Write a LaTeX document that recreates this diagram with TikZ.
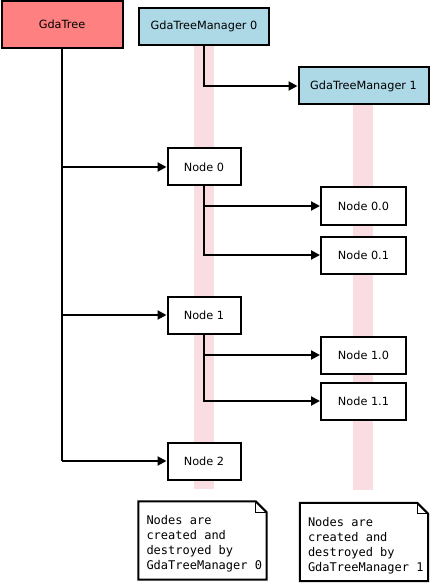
\documentclass[tikz,border=0pt]{standalone}
\usepackage{fontspec}
\setmainfont{DejaVu Sans}
\setmonofont{DejaVu Sans Mono}
\usetikzlibrary{arrows.meta}
\definecolor{treered}{HTML}{FF8080}
\definecolor{mgrblue}{HTML}{ADD8E6}
\definecolor{bandpink}{HTML}{FADDE2}
\tikzset{
  box/.style={draw=black, line width=2pt, inner sep=0pt, font=\fontsize{11.3}{13}\selectfont, align=center},
  treebox/.style={box, fill=treered, minimum width=121pt, minimum height=47pt},
  mgrbox/.style={box, fill=mgrblue, minimum width=130pt, minimum height=37pt},
  nodebox/.style={box, fill=white, minimum width=73pt, minimum height=37pt},
  subbox/.style={box, fill=white, minimum width=85pt, minimum height=37pt},
  conn/.style={line width=2pt, -{Triangle[length=9pt,width=9pt]}},
  plain/.style={line width=2pt},
  band/.style={fill=bandpink, draw=none},
  noteshape/.style={inner sep=0pt, minimum width=128pt, minimum height=78pt},
  notetext/.style={inner sep=0pt, align=left, anchor=north west, font=\ttfamily\fontsize{12}{15}\selectfont},
  notebox/.style={line width=2pt, fill=white, line join=miter},
  notefold/.style={line width=1.2pt}
}
\begin{document}
\begin{tikzpicture}[x=1pt,y=-1pt]
\useasboundingbox (0,0) rectangle (431,585);
% lifelines
\fill[band] (194,40) rectangle (214,489);
\fill[band] (353,100) rectangle (373,490);
% nodes
\node[treebox] (gt) at (62,24.5) {GdaTree};
\node[mgrbox] (m0) at (204,26.5) {GdaTreeManager 0};
\node[mgrbox] (m1) at (363.5,86) {GdaTreeManager 1};
\node[nodebox] (n0) at (204,167) {Node 0};
\node[subbox] (n00) at (363.5,206) {Node 0.0};
\node[subbox] (n01) at (363.5,255) {Node 0.1};
\node[nodebox] (n1) at (204,315) {Node 1};
\node[subbox] (n10) at (363.5,355) {Node 1.0};
\node[subbox] (n11) at (363.5,401) {Node 1.1};
\node[nodebox] (n2) at (204,461) {Node 2};
% connectors
\draw[plain] (gt.south) -- (gt.south |- n2.west);
\draw[conn] (gt.south |- n0.west) -- (n0.west);
\draw[conn] (gt.south |- n1.west) -- (n1.west);
\draw[conn] (gt.south |- n2.west) -- (n2.west);
\draw[conn] (m0.south) |- (m1.west);
\draw[conn] (n0.south) |- (n00.west);
\draw[conn] (n0.south) |- (n01.west);
\draw[conn] (n1.south) |- (n10.west);
\draw[conn] (n1.south) |- (n11.west);
% notes
\node[noteshape] (note0) at (202.5,540.5) {};
\draw[notebox] (note0.north west) -- ([xshift=-11pt]note0.north east) -- ([yshift=-11pt]note0.north east) -- (note0.south east) -- (note0.south west) -- cycle;
\draw[notefold] ([xshift=-11pt]note0.north east) -- ([xshift=-11pt,yshift=-11pt]note0.north east) -- ([yshift=-11pt]note0.north east);
\node[notetext] (notetxt0) at ([xshift=8pt,yshift=-14pt]note0.north west) {Nodes are\\created and\\destroyed by\\GdaTreeManager 0};
\node[noteshape] (note1) at (364,542) {};
\draw[notebox] (note1.north west) -- ([xshift=-11pt]note1.north east) -- ([yshift=-11pt]note1.north east) -- (note1.south east) -- (note1.south west) -- cycle;
\draw[notefold] ([xshift=-11pt]note1.north east) -- ([xshift=-11pt,yshift=-11pt]note1.north east) -- ([yshift=-11pt]note1.north east);
\node[notetext] (notetxt1) at ([xshift=8pt,yshift=-14pt]note1.north west) {Nodes are\\created and\\destroyed by\\GdaTreeManager 1};
\end{tikzpicture}
\end{document}
